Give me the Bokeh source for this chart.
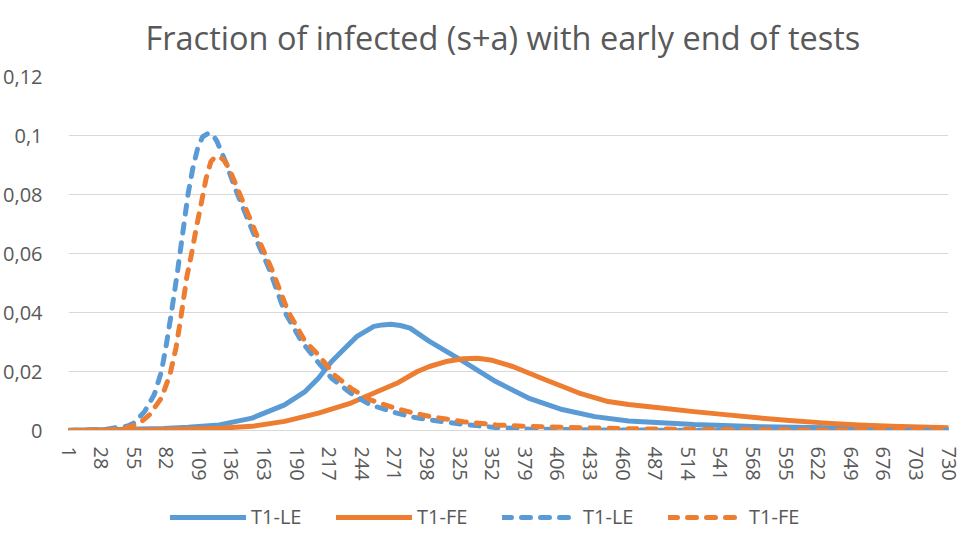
from bokeh.plotting import figure
from bokeh.models import Legend, LegendItem, FixedTicker, Range1d
from bokeh.layouts import column
from bokeh.embed import file_html
from bokeh.resources import INLINE

# ---- data ----
title_text = "Fraction of infected (s+a) with early end of tests"

le_days = [1, 40, 80, 100, 126, 153, 180, 197, 208, 219, 230, 240, 254, 261, 268, 276, 284,
           300, 328, 355, 382, 410, 437, 465, 492, 519, 574, 629, 683, 730]
le_vals = [0.0001, 0.0003, 0.0007, 0.0011, 0.0019, 0.0042, 0.0087, 0.0132, 0.0177, 0.0234,
           0.0279, 0.0319, 0.0353, 0.0358, 0.0360, 0.0356, 0.0347, 0.0302, 0.0234, 0.0166,
           0.0110, 0.0071, 0.0047, 0.0032, 0.0026, 0.0020, 0.0013, 0.0009, 0.0006, 0.0003]

fe_days = [1, 60, 100, 126, 153, 180, 208, 235, 257, 273, 290, 300, 315, 328, 340, 352, 369,
           396, 424, 448, 465, 492, 519, 547, 574, 601, 629, 656, 683, 730]
fe_vals = [0.0000, 0.0002, 0.0005, 0.0008, 0.0014, 0.0031, 0.0059, 0.0093, 0.0132, 0.0160,
           0.0200, 0.0217, 0.0235, 0.0243, 0.0245, 0.0238, 0.0217, 0.0172, 0.0127, 0.0098,
           0.0088, 0.0076, 0.0064, 0.0053, 0.0042, 0.0033, 0.0025, 0.0019, 0.0014, 0.0009]

le2_days = [1, 30, 41, 50, 55, 64, 72, 78, 82, 86, 91, 94, 97, 100, 104, 108, 112, 117, 121,
            124, 131, 139, 148, 156, 167, 180, 194, 205, 219, 235, 251, 273, 287, 300, 328,
            355, 382, 437, 500, 600, 730]
le2_vals = [0.0000, 0.0003, 0.0010, 0.0015, 0.0025, 0.0064, 0.0121, 0.0200, 0.0290, 0.0392,
            0.0530, 0.0620, 0.0710, 0.0800, 0.0889, 0.0957, 0.0995, 0.1008, 0.1000, 0.0980,
            0.0912, 0.0821, 0.0731, 0.0652, 0.0550, 0.0403, 0.0302, 0.0245, 0.0177, 0.0126,
            0.0087, 0.0059, 0.0045, 0.0036, 0.0021, 0.0010, 0.0005, 0.0002, 0.0001, 0.0001,
            0.0001]

fe2_days = [1, 40, 50, 60, 68, 78, 85, 90, 94, 99, 103, 107, 111, 115, 119, 122, 126, 130,
            134, 142, 150, 158, 169, 183, 197, 208, 221, 235, 251, 271, 287, 301, 328, 355,
            382, 410, 465, 520, 600, 730]
fe2_vals = [0.0000, 0.0003, 0.0010, 0.0025, 0.0053, 0.0110, 0.0189, 0.0279, 0.0380, 0.0520,
            0.0600, 0.0690, 0.0770, 0.0855, 0.0912, 0.0925, 0.0929, 0.0915, 0.0889, 0.0810,
            0.0731, 0.0652, 0.0550, 0.0403, 0.0302, 0.0257, 0.0189, 0.0143, 0.0104, 0.0076,
            0.0059, 0.0047, 0.0030, 0.0019, 0.0014, 0.0011, 0.0006, 0.0004, 0.0002, 0.0001]

series_labels = ["T1-LE", "T1-FE", "T1-LE", "T1-FE"]

x_ticks = [1, 28, 55, 82, 109, 136, 163, 190, 217, 244, 271, 298, 325, 352, 379, 406, 433,
           460, 487, 514, 541, 568, 595, 622, 649, 676, 703, 730]
y_ticks = [0, 0.02, 0.04, 0.06, 0.08, 0.1, 0.12]
y_tick_labels = ["0", "0,02", "0,04", "0,06", "0,08", "0,1", "0,12"]

# ---- styling ----
BLUE = "#5B9BD5"
ORANGE = "#ED7D31"
TEXT = "#595959"
GRID = "#D9D9D9"
FONT = "Open Sans"
TICK_SIZE = "20px"
W = 5
DASH = "9 10"

p = figure(frame_width=880, frame_height=354, output_backend="svg", toolbar_location=None,
           x_range=Range1d(1, 730), y_range=Range1d(0, 0.12),
           min_border_left=60, min_border_right=15, min_border_top=0, min_border_bottom=55)

p.title.text = title_text
p.title.align = "left"
p.title.vertical_align = "top"
p.title.offset = 77
p.title.text_font = FONT
p.title.text_font_size = "32.5px"
p.title.text_font_style = "normal"
p.title.text_color = TEXT
p.title.standoff = 29

p.outline_line_color = None
p.background_fill_color = "white"
p.xgrid.visible = False
p.ygrid.grid_line_color = GRID
p.ygrid.grid_line_width = 1

p.yaxis.ticker = FixedTicker(ticks=y_ticks)
p.yaxis.major_label_overrides = dict(zip(y_ticks, y_tick_labels))
p.yaxis.axis_line_color = None
p.yaxis.major_tick_line_color = None
p.yaxis.minor_tick_line_color = None
p.yaxis.major_tick_out = 0
p.yaxis.major_label_standoff = 26
p.yaxis.major_label_text_font = FONT
p.yaxis.major_label_text_font_size = TICK_SIZE
p.yaxis.major_label_text_color = TEXT

p.xaxis.ticker = FixedTicker(ticks=x_ticks)
p.xaxis.axis_line_color = GRID
p.xaxis.major_tick_line_color = None
p.xaxis.minor_tick_line_color = None
p.xaxis.major_tick_out = 0
p.xaxis.major_label_orientation = "vertical"
p.xaxis.major_label_standoff = 16
p.xaxis.major_label_text_font = FONT
p.xaxis.major_label_text_font_size = TICK_SIZE
p.xaxis.major_label_text_color = TEXT

styles = [dict(line_color=BLUE), dict(line_color=ORANGE),
          dict(line_color=BLUE, line_dash=DASH), dict(line_color=ORANGE, line_dash=DASH)]
series = [(le_days, le_vals), (fe_days, fe_vals), (le2_days, le2_vals), (fe2_days, fe2_vals)]

for (xs, ys), st in zip(series, styles):
    p.line(xs, ys, line_width=W, line_join="round", line_cap="round", **st)

# ---- legend strip below the chart (legend keys only; lines lie outside its view) ----
lf = figure(width=955, height=45, output_backend="svg", toolbar_location=None,
            x_range=Range1d(0, 1), y_range=Range1d(0, 1), min_border=0,
            x_axis_location=None, y_axis_location=None)
lf.grid.visible = False
lf.outline_line_color = None
legend_renderers = [lf.line([-5, -4], [-5, -4], line_width=W, line_join="round",
                            line_cap="round", **st) for st in styles]

legend = Legend(items=[LegendItem(label=lab, renderers=[r])
                       for lab, r in zip(series_labels, legend_renderers)],
                orientation="horizontal", location=(102, 0))
legend.border_line_color = None
legend.background_fill_alpha = 0
legend.glyph_width = 76
legend.label_standoff = 5
legend.label_width = 54
legend.spacing = 31
legend.padding = 0
legend.margin = 0
legend.label_text_font = FONT
legend.label_text_font_size = "20px"
legend.label_text_color = TEXT
lf.add_layout(legend, "center")

layout = column(p, lf, spacing=0)
open("out.html", "w").write(file_html(layout, INLINE))
